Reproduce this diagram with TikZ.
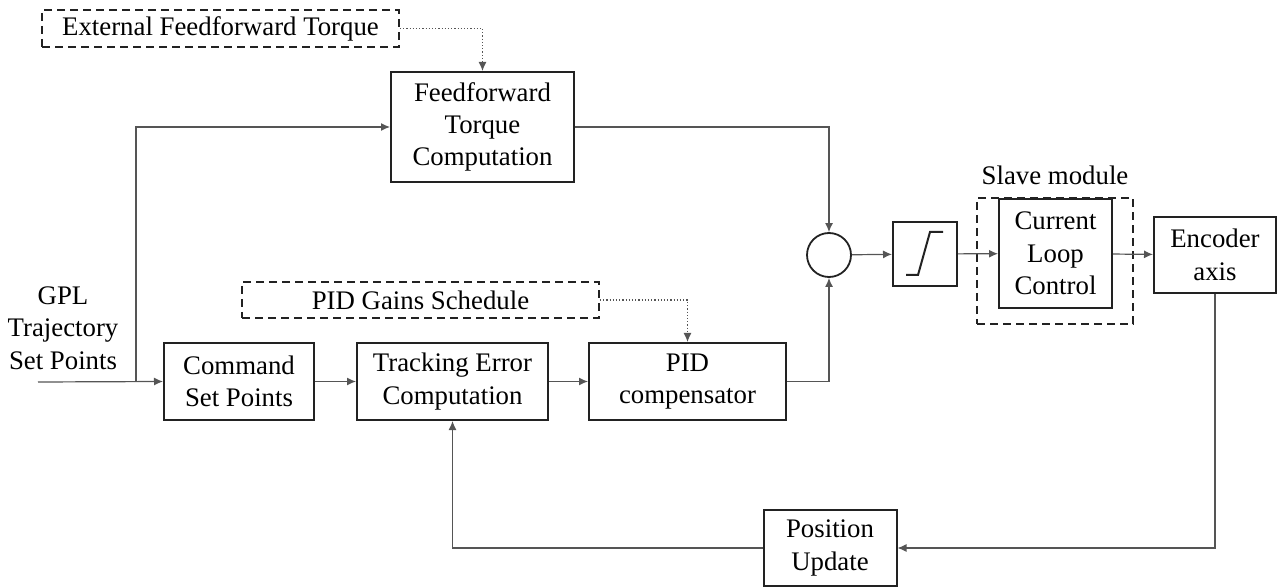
\documentclass[tikz,border=0pt]{standalone}
\usepackage{fontspec}
\setmainfont{Liberation Serif}
\newfontfamily\tnr{Liberation Serif}
\usepackage{tikz}
\usetikzlibrary{arrows.meta,positioning,calc}
\definecolor{lgray}{HTML}{555555}
\definecolor{dgray}{HTML}{222222}
\tikzset{
  % plain block with a dark frame
  blk/.style     = {rectangle, draw=dgray, line width=1pt, align=center, inner sep=2pt},
  dashblk/.style = {rectangle, draw=dgray, line width=0.9pt, dashed, dash pattern=on 4pt off 2.5pt,
                    align=center, inner sep=2pt},
  sig/.style     = {-{Latex[length=4.5pt,width=4pt]}, line width=0.6pt, lgray},
  hint/.style    = {-{Latex[length=4.5pt,width=4pt]}, line width=0.6pt, lgray, densely dotted},
}

\begin{document}
\begin{tikzpicture}[x=0.5pt,y=-0.5pt,font=\tnr\fontsize{13.4}{16.2}\selectfont]
\useasboundingbox (0,0) rectangle (1279,587);
% top branch
\node[dashblk, minimum width=178.5pt, minimum height=18.5pt] (ext) at (220.5,28.5) {External Feedforward Torque};
\node[blk, minimum width=91.5pt, minimum height=55pt] (ff) at (482.5,127) {Feedforward\\Torque\\Computation};
% lower chain
\node[align=center] (gpl) at (63,328) {GPL\\Trajectory\\Set Points};
\node[dashblk, minimum width=178.5pt, minimum height=18pt] (gains) at (420.5,300) {PID Gains Schedule};
\node[blk, minimum width=75pt, minimum height=38.5pt] (cmd) at (239,381.5) {Command\\Set Points};
\node[blk, minimum width=95.5pt, minimum height=38.5pt] (track) at (452.5,381.5) {Tracking Error\\Computation};
\node[blk, minimum width=98.5pt, minimum height=38.5pt] (pid) at (687.5,381.5) {PID\\compensator};
% plant side
\node[circle, draw=dgray, line width=0.9pt, minimum size=22pt, inner sep=0pt] (sum) at (829,255) {};
\node[blk, minimum size=32pt] (sat) at (925,254) {};
\draw[line width=1pt, dgray] ($(sat)+(-19,21)$) -- ++(12,0) -- ($(sat)+(5,-22)$) -- ++(13,0);
\node[dashblk, minimum width=78pt, minimum height=63pt] (slave) at (1055,261) {};
\node (slavelbl) at (1055,175) {Slave module};
\node[blk, fill=white, minimum width=56.5pt, minimum height=54.5pt] (clc) at (1055.5,253.5) {Current\\Loop\\Control};
\node[blk, minimum width=61pt, minimum height=38pt] (enc) at (1215,255) {Encoder\\axis};
\node[blk, minimum width=66.5pt, minimum height=38pt] (pos) at (830,548) {Position\\Update};
\coordinate (in) at (38,382);
\coordinate (split) at (136,382);
% signals
\draw[hint] (ext.east) -| (ff.north);
\draw[hint] (gains.east) -| (pid.north);
\draw[sig] (in) -- (cmd.west);
\draw[sig] (split) |- (ff.west);
\draw[sig] (cmd) -- (track);
\draw[sig] (track) -- (pid);
\draw[sig] (ff.east) -| (sum.north);
\draw[sig] (pid.east) -| (sum.south);
\draw[sig] (sum) -- (sat);
\draw[sig] (sat) -- (clc);
\draw[sig] (clc) -- (enc);
\draw[sig] (enc.south) |- (pos.east);
\draw[sig] (pos.west) -| (track.south);
\end{tikzpicture}
\end{document}
